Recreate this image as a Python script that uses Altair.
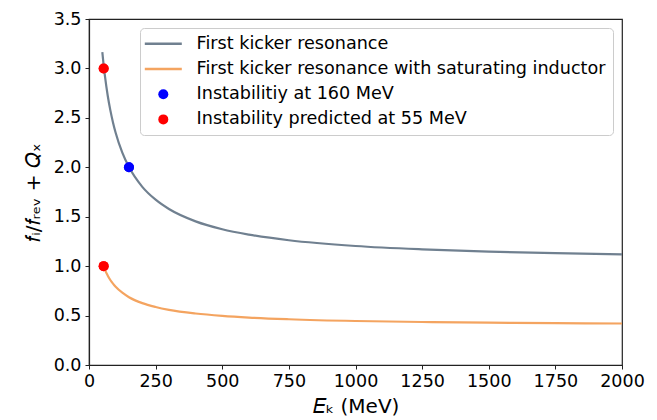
import altair as alt
import pandas as pd

# ---- data ----
LABELS = [
    "First kicker resonance",
    "First kicker resonance with saturating inductor",
    "Instabilitiy at 160 MeV",
    "Instability predicted at 55 MeV",
]
COLORS = ["#708090", "#f4a460", "#0000ff", "#ff0000"]
LINE_SYMBOL = "M-3.7,-0.25H3.7V0.25H-3.7Z"
SHAPES = [LINE_SYMBOL, LINE_SYMBOL, "circle", "circle"]

E_RES = [50, 55, 60, 70, 80, 90, 100, 125, 150, 200, 250, 300, 400, 500, 600, 750, 1000, 1250, 1500, 1750, 2000]
F_RES = [3.164, 3.032, 2.919, 2.729, 2.578, 2.454, 2.349, 2.148, 2.002, 1.802, 1.672, 1.578, 1.453, 1.373,
         1.319, 1.262, 1.204, 1.170, 1.147, 1.131, 1.120]

E_SAT = [55, 60, 70, 80, 90, 100, 125, 150, 200, 250, 300, 400, 500, 600, 750, 1000, 1250, 1500, 1750, 2000]
F_SAT = [1.000, 0.963, 0.906, 0.860, 0.823, 0.791, 0.731, 0.686, 0.626, 0.587, 0.558, 0.521, 0.497, 0.480,
         0.463, 0.445, 0.435, 0.428, 0.423, 0.420]

E_BLUE = [150]
F_BLUE = [2.0]
E_RED = [55, 55]
F_RED = [3.0, 1.0]

X_TICKS = [0, 250, 500, 750, 1000, 1250, 1500, 1750, 2000]
Y_TICKS = [0.0, 0.5, 1.0, 1.5, 2.0, 2.5, 3.0, 3.5]

lines_df = pd.concat([
    pd.DataFrame({"E": E_RES, "f": F_RES, "series": LABELS[0], "order": range(len(E_RES))}),
    pd.DataFrame({"E": E_SAT, "f": F_SAT, "series": LABELS[1], "order": range(len(E_SAT))}),
])
points_df = pd.concat([
    pd.DataFrame({"E": E_BLUE, "f": F_BLUE, "series": LABELS[2]}),
    pd.DataFrame({"E": E_RED, "f": F_RED, "series": LABELS[3]}),
])

FONT = "DejaVu Sans"

legend = alt.Legend(
    title=None,
    orient="none",
    legendX=51,
    legendY=9,
    padding=7,
    cornerRadius=4,
    strokeColor="#cccccc",
    fillColor="rgba(255,255,255,0.8)",
    labelFont=FONT,
    labelFontSize=17.6,
    labelColor="black",
    labelLimit=1000,
    labelOffset=24.5,
    symbolOffset=7.5,
    symbolSize=100,
    symbolStrokeWidth=0,
    symbolOpacity=1,
    rowPadding=6.2,
)

color_scale = alt.Scale(domain=LABELS, range=COLORS)
shape_scale = alt.Scale(domain=LABELS, range=SHAPES)

x = alt.X(
    "E:Q",
    scale=alt.Scale(domain=[0, 2000], nice=False),
    axis=alt.Axis(values=X_TICKS, format="d", title="𝐸ₖ (MeV)", titlePadding=7,
                  labelOverlap=False, labelFlush=False),
)
y = alt.Y(
    "f:Q",
    scale=alt.Scale(domain=[0, 3.5], nice=False),
    axis=alt.Axis(values=Y_TICKS, format=".1f", title="𝑓ᵢ/𝑓ᵣₑᵥ + 𝑄ₓ", titlePadding=10,
                  labelOverlap=False, labelFlush=False),
)

# the point layer comes first so that the shared legend takes its filled symbols
points = alt.Chart(points_df).mark_point(filled=True, size=100, opacity=1).encode(
    x=x,
    y=y,
    color=alt.Color("series:N", scale=color_scale, legend=legend),
    shape=alt.Shape("series:N", scale=shape_scale, legend=legend),
)
lines = alt.Chart(lines_df).mark_line(strokeWidth=2.2, interpolate="monotone").encode(
    x=alt.X("E:Q"),
    y=alt.Y("f:Q"),
    color=alt.Color("series:N", scale=color_scale, legend=legend),
    detail="series:N",
    order="order:Q",
)

chart = (
    alt.layer(points, lines, points)
    .properties(
        width=533,
        height=346,
        autosize=alt.AutoSizeParams(type="none"),
        padding={"left": 89, "top": 19, "right": 35, "bottom": 55},
    )
    .configure_view(stroke="#222222", strokeWidth=1.2)
    .configure_axis(
        grid=False,
        domainColor="#222222",
        domainWidth=1.2,
        tickColor="#222222",
        tickSize=4,
        tickWidth=1,
        labelFont=FONT,
        labelFontSize=17.5,
        labelColor="black",
        labelPadding=3,
        titleFont=FONT,
        titleFontSize=20,
        titleFontWeight="normal",
        titleColor="black",
    )
    .configure_axisY(labelPadding=4)
)

chart.save("out.html", embed_options={"renderer": "svg", "actions": False})
